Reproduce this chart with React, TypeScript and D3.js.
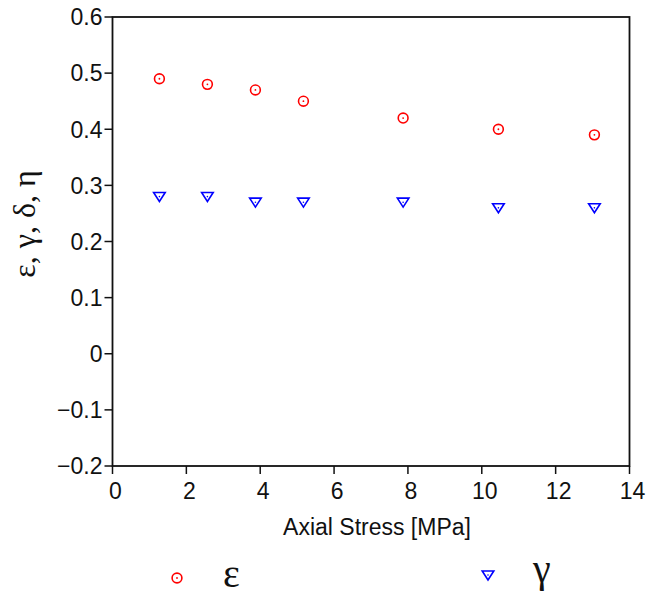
import React from "react";
import * as d3 from "d3";

const stressX: number[] = [1.27, 2.57, 3.87, 5.17, 7.87, 10.45, 13.05];
const epsilon: number[] = [0.49, 0.48, 0.47, 0.45, 0.42, 0.40, 0.39];
const gamma: number[] = [0.28, 0.28, 0.27, 0.27, 0.27, 0.26, 0.26];
const xTicks: number[] = [0, 2, 4, 6, 8, 10, 12, 14];
const yTicks: number[] = [-0.2, -0.1, 0, 0.1, 0.2, 0.3, 0.4, 0.5, 0.6];

const W = 648, H = 596;
const L = 112.5, R = 629.5, T = 17, B = 466;

export default function App() {
  const x = d3.scaleLinear().domain([0, 14]).range([L, R]);
  const y = d3.scaleLinear().domain([-0.2, 0.6]).range([B, T]);
  const fmtY = (v: number) => (Math.abs(v) < 1e-9 ? "0" : d3.format(".1f")(v).replace("-", "\u2212"));
  const tri = (cx: number, cy: number, s = 5.8) =>
    `M${cx - s},${cy - s * 0.7}L${cx + s},${cy - s * 0.7}L${cx},${cy + s * 0.85}Z`;
  const sans = "'Liberation Sans', Arial, sans-serif";
  const serif = "'Liberation Serif', 'Times New Roman', serif";
  return (
    <svg width={W} height={H} style={{ position: "absolute", left: 0, top: 0, background: "#fff" }}>
      <rect x={0} y={0} width={W} height={H} fill="#fff" />
      <rect x={L} y={T} width={R - L} height={B - T} fill="none" stroke="#111" strokeWidth={1.8} />
      {yTicks.map((t) => (
        <g key={"y" + t}>
          <line x1={L - 8} x2={L} y1={y(t)} y2={y(t)} stroke="#111" strokeWidth={1.5} />
          <text x={L - 10} y={y(t)} dy="0.36em" textAnchor="end" fontFamily={sans} fontSize={23} fill="#111">
            {fmtY(t)}
          </text>
        </g>
      ))}
      {xTicks.map((t) => (
        <g key={"x" + t}>
          <line x1={x(t)} x2={x(t)} y1={B} y2={B + 8} stroke="#111" strokeWidth={1.5} />
          <text x={x(t) + 3} y={499} textAnchor="middle" fontFamily={sans} fontSize={23} fill="#111">
            {t}
          </text>
        </g>
      ))}
      <text x={377} y={535} textAnchor="middle" fontFamily={sans} fontSize={23} fill="#111">
        Axial Stress [MPa]
      </text>
      <text
        transform={`translate(35,224) rotate(-90)`}
        textAnchor="middle"
        fontFamily={serif}
        fontSize={32}
        fill="#111"
      >
        ε, γ, δ, η
      </text>
      {stressX.map((s, i) => (
        <g key={"e" + i}>
          <circle cx={x(s)} cy={y(epsilon[i])} r={4.9} fill="none" stroke="#ff0000" strokeWidth={1.6} />
          <circle cx={x(s)} cy={y(epsilon[i])} r={0.9} fill="#ff0000" />
        </g>
      ))}
      {stressX.map((s, i) => (
        <g key={"g" + i}>
          <path d={tri(x(s), y(gamma[i]))} fill="none" stroke="#0000ff" strokeWidth={1.6} />
          <circle cx={x(s)} cy={y(gamma[i])} r={0.8} fill="#0000ff" />
        </g>
      ))}
      <circle cx={177} cy={578} r={4.9} fill="none" stroke="#ff0000" strokeWidth={1.6} />
      <circle cx={177} cy={578} r={0.9} fill="#ff0000" />
      <text x={223} y={587} fontFamily={serif} fontSize={40} fill="#111">ε</text>
      <path d={tri(488, 575)} fill="none" stroke="#0000ff" strokeWidth={1.6} />
      <circle cx={488} cy={575} r={0.8} fill="#0000ff" />
      <text x={533} y={582} fontFamily={serif} fontSize={40} fill="#111">γ</text>
    </svg>
  );
}
